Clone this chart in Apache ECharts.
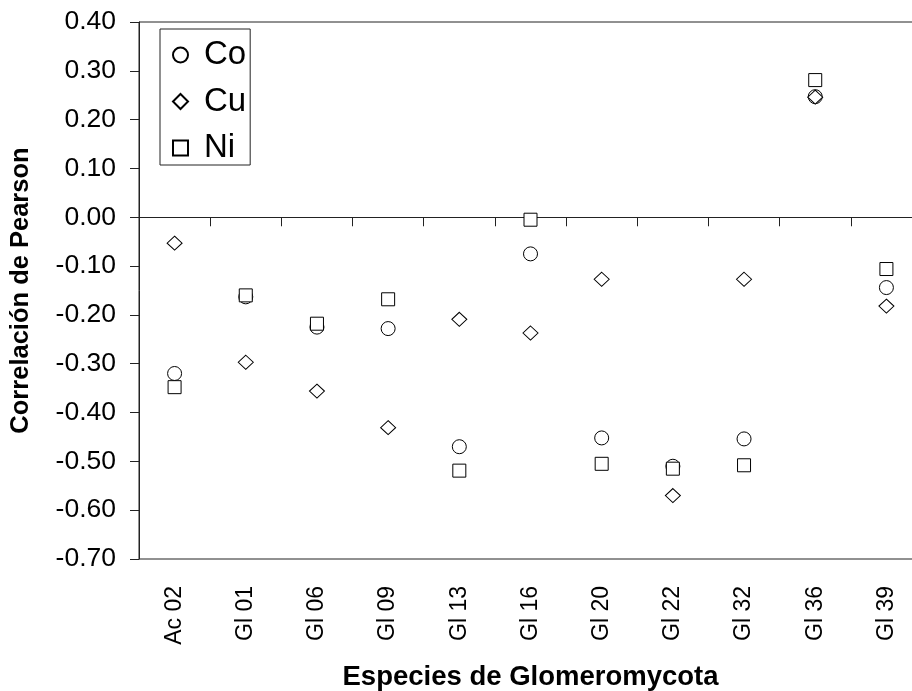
<!DOCTYPE html>
<html>
<head>
<meta charset="utf-8">
<script src="https://cdn.jsdelivr.net/npm/echarts@6/dist/echarts.min.js"></script>
<style>html,body{margin:0;padding:0;background:#fff;overflow:hidden;}#c{width:912px;height:691px;}</style>
</head>
<body>
<div id="c"></div>
<script>
const categories = ['Ac 02','Gl 01','Gl 06','Gl 09','Gl 13','Gl 16','Gl 20','Gl 22','Gl 32','Gl 36','Gl 39'];
const coValues = [-0.320, -0.163, -0.225, -0.228, -0.470, -0.075, -0.452, -0.510, -0.454, 0.247, -0.144];
const cuValues = [-0.053, -0.297, -0.356, -0.431, -0.209, -0.237, -0.127, -0.570, -0.127, 0.246, -0.182];
const niValues = [-0.348, -0.160, -0.218, -0.168, -0.519, -0.005, -0.505, -0.515, -0.508, 0.281, -0.106];
const yTicks = {min: -0.7, max: 0.4, interval: 0.1};

const FONT = '"Liberation Sans", Arial, sans-serif';
const LINE = '#222';
const chart = echarts.init(document.getElementById('c'), null, {renderer: 'canvas'});
const markerStyle = {color: '#fff', borderColor: '#000', borderWidth: 1, opacity: 1};

chart.setOption({
  animation: false,
  backgroundColor: '#fff',
  textStyle: {fontFamily: FONT},
  grid: {left: 139, top: 22, width: 783, height: 537, show: true, borderColor: LINE, borderWidth: 1,
    containLabel: false, outerBoundsMode: 'none'},
  legend: {
    orient: 'vertical', left: 160, top: 29,
    padding: [9, 4, 0, 12],
    itemWidth: 15, itemHeight: 15, itemGap: 12.5,
    borderColor: LINE, borderWidth: 1,
    textStyle: {fontFamily: FONT, fontSize: 33, color: '#000', lineHeight: 34, padding: [0, 0, 0, 11]},
    data: [{name: 'Co', icon: 'circle'}, {name: 'Cu', icon: 'diamond'}, {name: 'Ni', icon: 'rect'}]
  },
  xAxis: [
    {
      type: 'category', data: categories, position: 'bottom',
      axisLine: {show: false, onZero: false},
      axisTick: {show: false},
      axisLabel: {rotate: 90, margin: 27, fontSize: 23, color: '#000', fontFamily: FONT, interval: 0},
      name: 'Especies de Glomeromycota', nameLocation: 'middle', nameGap: 104,
      nameTextStyle: {fontSize: 27.5, fontWeight: 'bold', color: '#000', fontFamily: FONT},
      splitLine: {show: false}
    },
    {
      type: 'category', data: categories, position: 'top',
      axisLine: {show: true, onZero: true, lineStyle: {color: LINE, width: 1}},
      axisTick: {show: true, inside: true, length: 9, interval: 0, lineStyle: {color: LINE}},
      axisLabel: {show: false},
      splitLine: {show: false}
    }
  ],
  yAxis: {
    type: 'value', min: yTicks.min, max: yTicks.max, interval: yTicks.interval,
    axisLine: {show: true, onZero: false, lineStyle: {color: LINE, width: 1}},
    axisTick: {show: true, length: 9, lineStyle: {color: LINE}},
    axisLabel: {margin: 23, fontSize: 26.5, color: '#000', fontFamily: FONT,
      formatter: v => (Math.abs(v) < 1e-9 ? 0 : v).toFixed(2)},
    splitLine: {show: false},
    name: 'Correlación de Pearson', nameLocation: 'middle', nameGap: 105, nameRotate: 90,
    nameTextStyle: {fontSize: 25.5, fontWeight: 'bold', color: '#000', fontFamily: FONT}
  },
  series: [
    {name: 'Co', type: 'scatter', xAxisIndex: 0, symbol: 'circle', symbolSize: 14, data: coValues, itemStyle: markerStyle, z: 3},
    {name: 'Cu', type: 'scatter', xAxisIndex: 0, symbol: 'diamond', symbolSize: [15, 14], data: cuValues, itemStyle: markerStyle, z: 4},
    {name: 'Ni', type: 'scatter', xAxisIndex: 0, symbol: 'rect', symbolSize: 13, data: niValues, itemStyle: markerStyle, z: 5}
  ]
});
</script>
</body>
</html>
